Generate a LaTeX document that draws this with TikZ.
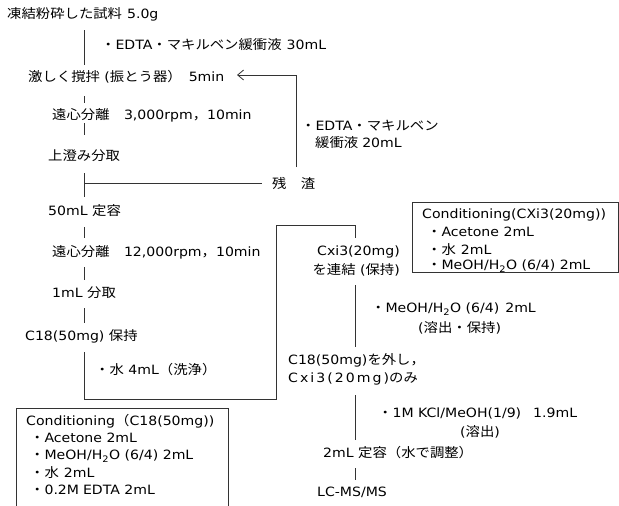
\documentclass[tikz,border=0pt]{standalone}
\usepackage{fontspec}
\setmainfont{DejaVu Sans}[FakeStretch=1.1]
\newfontfamily\jpf{Noto Sans CJK JP}[FakeStretch=1.1,Scale=1.02]
\newcommand\J[1]{{\jpf #1}}
\usetikzlibrary{arrows.meta}
\begin{document}
\begin{tikzpicture}[x=1pt,y=-1pt,
  txt/.style={anchor=west,inner sep=0pt,font=\fontsize{12.8}{15}\selectfont,text=black},
  ln/.style={draw=black!80,line width=0.8pt},
  boxn/.style={ln,anchor=north west,inner sep=0pt,minimum width=#1},
  arr/.style={-{Straight Barb[length=6pt,width=10pt]}}]
\useasboundingbox (0,0) rectangle (619,506);
\clip (0,0) rectangle (619,506);
\fill[white] (0,0) rectangle (619,506);

% main column texts
\node[txt] (t1) at (7,14) {\J{凍結粉砕した試料}\hspace{5pt}5.0g};
\node[txt] (a1) at (101,45) {\J{・}EDTA\J{・マキルベン緩衝液}\hspace{5pt}30mL};
\node[txt] (t2) at (28,77) {\J{激しく撹拌} (\J{振とう器）}\hspace{7pt}5min};
\node[txt] (t3) at (52,115) {\J{遠心分離　}3,000rpm\J{，}10min};
\node[txt] (t4) at (48,156) {\J{上澄み分取}};
\node[txt] (zan) at (272,183) {\J{残　渣}};
\node[txt] (a2a) at (301,126) {\J{・}EDTA\J{・マキルベン}};
\node[txt] (a2b) at (315,143) {\J{緩衝液}\hspace{4pt}20mL};
\node[txt] (t5) at (48,211) {50mL \J{定容}};
\node[txt] (t6) at (52,252) {\J{遠心分離　}12,000rpm\J{，}10min};
\node[txt] (t7) at (52,293) {1mL \J{分取}};
\node[txt] (t8) at (25,336) {C18(50mg) \J{保持}};
\node[txt] (w1) at (95,370) {\J{・水} 4mL\J{（洗浄）}};

% right column texts
\node[txt,anchor=east] (c1) at (400,252) {Cxi3(20mg)};
\node[txt,anchor=east] (c2) at (400,270) {\J{を連結} (\J{保持})};
\node[txt] (m1) at (371,309) {\J{・}MeOH/H\textsubscript{2}O (6/4)\hspace{6pt}2mL};
\node[txt] (m2) at (418,328) {(\J{溶出・保持})};
\node[txt] (r1) at (288,360) {C18(50mg)\J{を外し，}};
\node[txt] (r2) at (288,379) {\addfontfeature{LetterSpace=16}Cxi3(20mg)\J{のみ}};
\node[txt] (k1) at (378,413) {\J{・}1M KCl/MeOH(1/9)\hspace{12pt}1.9mL};
\node[txt] (k2) at (460,432) {(\J{溶出})};
\node[txt] (d1) at (323,453) {2mL \J{定容（水で調整）}};
\node[txt] (lc) at (317,492) {LC-MS/MS};

% conditioning box right
\node[boxn=206pt,minimum height=70pt] (bx1) at (412,202) {};
\node[txt] (b1a) at (422,215) {Conditioning(CXi3(20mg))};
\node[txt] (b1b) at (427,232) {\J{・}Acetone 2mL};
\node[txt] (b1c) at (427,250) {\J{・水}\hspace{5pt}2mL};
\node[txt] (b1d) at (427,266) {\J{・}MeOH/H\textsubscript{2}O (6/4) 2mL};

% conditioning box left
\node[boxn=212pt,minimum height=110pt] (bx2) at (16,408) {};
\node[txt] (b2a) at (26,421) {Conditioning\J{（}C18(50mg))};
\node[txt] (b2b) at (30,438) {\J{・}Acetone 2mL};
\node[txt] (b2c) at (30,456) {\J{・}MeOH/H\textsubscript{2}O (6/4) 2mL};
\node[txt] (b2d) at (30,473) {\J{・水}\hspace{5pt}2mL};
\node[txt] (b2e) at (30,490) {\J{・}0.2M\hspace{4pt}EDTA 2mL};

% connector coordinates
\coordinate (s1a) at (84,30);  \coordinate (s1b) at (84,65);
\coordinate (s2a) at (84,96);  \coordinate (s2b) at (84,103);
\coordinate (s3a) at (84,123); \coordinate (s3b) at (84,135);
\coordinate (s4a) at (84,173); \coordinate (s4b) at (84,197);
\coordinate (br)  at (84,183); \coordinate (brE) at (262,183);
\coordinate (s5a) at (84,227); \coordinate (s5b) at (84,238);
\coordinate (s6a) at (84,267); \coordinate (s6b) at (84,280);
\coordinate (s7a) at (84,308); \coordinate (s7b) at (84,323);
\coordinate (s8a) at (84,352); \coordinate (s8b) at (84,399);
\coordinate (s8c) at (276,399); \coordinate (s8d) at (276,225);
\coordinate (s8e) at (355,225); \coordinate (s8f) at (355,238);
\coordinate (lpA) at (296,167); \coordinate (lpT) at (237,75);
\coordinate (r1a) at (355,285); \coordinate (r1b) at (355,347);
\coordinate (r2a) at (355,395); \coordinate (r2b) at (355,440);
\coordinate (r3a) at (355,468); \coordinate (r3b) at (355,480);

\draw[ln] (s1a) -- (s1b);
\draw[ln] (s2a) -- (s2b);
\draw[ln] (s3a) -- (s3b);
\draw[ln] (s4a) -- (s4b);
\draw[ln] (br) -- (brE);
\draw[ln] (s5a) -- (s5b);
\draw[ln] (s6a) -- (s6b);
\draw[ln] (s7a) -- (s7b);
\draw[ln] (s8a) -- (s8b) -- (s8c) -- (s8d) -- (s8e) -- (s8f);
\draw[ln,arr] (lpA) |- (lpT);
\draw[ln] (r1a) -- (r1b);
\draw[ln] (r2a) -- (r2b);
\draw[ln] (r3a) -- (r3b);
\end{tikzpicture}
\end{document}
